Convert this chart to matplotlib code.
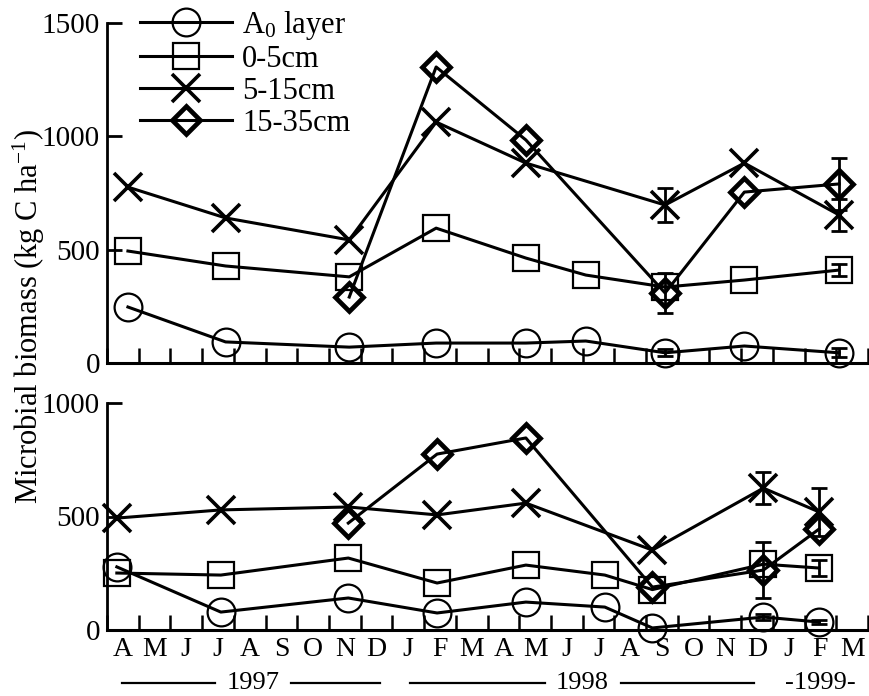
import numpy as np
import matplotlib
matplotlib.use("Agg")
import matplotlib.pyplot as plt
import matplotlib.transforms as mtransforms

plt.rcParams['font.family'] = ['Liberation Serif', 'DejaVu Serif']
plt.rcParams['mathtext.fontset'] = 'custom'
plt.rcParams['mathtext.rm'] = 'Liberation Serif'
plt.rcParams['mathtext.it'] = 'Liberation Serif:italic'

# months counted from 1 April 1997 (0) to 1 April 1999 (24)
month_labels = ['A', 'M', 'J', 'J', 'A', 'S', 'O', 'N', 'D', 'J', 'F', 'M',
                'A', 'M', 'J', 'J', 'A', 'S', 'O', 'N', 'D', 'J', 'F', 'M']
series_names = ['A$_0$ layer', '0-5cm', '5-15cm', '15-35cm']

# sampling dates (fractional month) for each panel
dates_top = [0.66, 3.74, 7.64, 10.38, 13.21, 15.1, 17.6, 20.1, 23.09]
dates_bot = [0.31, 3.59, 7.61, 10.41, 13.21, 15.7, 17.2, 20.7, 22.46]

nan = np.nan
# upper panel (kg C ha-1)
a0_top = [247, 93, 70, 88, 88, 97, 45, 75, 45]
s05_top = [494, 428, 380, 595, 463, 388, 335, 366, 410]
s515_top = [776, 640, 543, 1063, 882, nan, 697, 882, 653]
s1535_top = [nan, nan, 291, 1306, 984, nan, 309, 754, 790]
a0_top_err = [0, 0, 0, 0, 0, 0, 15, 0, 20]
s05_top_err = [0, 0, 0, 0, 0, 0, 0, 0, 25]
s515_top_err = [0, 0, 0, 0, 0, 0, 75, 0, 70]
s1535_top_err = [0, 0, 0, 0, 0, 0, 90, 0, 115]

# lower panel
a0_bot = [278, 79, 141, 75, 123, 101, 9, 57, 35]
s05_bot = [251, 242, 317, 207, 286, 242, 178, 290, 273]
s515_bot = [493, 529, 542, 507, 559, nan, 352, 625, 520]
s1535_bot = [nan, nan, 471, 775, 846, nan, 189, 264, 445]
a0_bot_err = [0, 0, 0, 0, 0, 0, 0, 15, 10]
s05_bot_err = [0, 0, 0, 0, 0, 0, 0, 0, 35]
s515_bot_err = [0, 0, 0, 0, 0, 0, 0, 70, 105]
s1535_bot_err = [0, 0, 0, 0, 0, 0, 0, 125, 0]

styles = [('o', 20, 1.6), ('s', 19, 1.6), ('x', 20, 2.6), ('D', 14, 3.4)]


def draw(ax, dates, values, errs, style, label=None):
    marker, ms, mew = style
    x = np.array(dates)
    y = np.array(values, dtype=float)
    e = np.array(errs, dtype=float)
    ok = ~np.isnan(y)
    line, = ax.plot(x[ok], y[ok], color='black', lw=2.2, marker=marker, ms=ms,
                    mfc='none', mec='black', mew=mew, clip_on=False, label=label)
    has = ok & (e > 0)
    if has.any():
        ax.errorbar(x[has], y[has], yerr=e[has], fmt='none', ecolor='black',
                    elinewidth=2, capsize=6, capthick=2, clip_on=False)
    return line


fig = plt.figure(figsize=(8.7, 6.96), dpi=100)
W, H = 870.0, 696.0
left = 107 / W
width = (868 - 107) / W
ax_top = fig.add_axes([left, 1 - 363 / H, width, (363 - 23) / H])
ax_bot = fig.add_axes([left, 1 - 630 / H, width, (630 - 403) / H])

handles = []
for vals, errs, st, name in zip([a0_top, s05_top, s515_top, s1535_top],
                                [a0_top_err, s05_top_err, s515_top_err, s1535_top_err],
                                styles, series_names):
    handles.append(draw(ax_top, dates_top, vals, errs, st, name))
for vals, errs, st in zip([a0_bot, s05_bot, s515_bot, s1535_bot],
                          [a0_bot_err, s05_bot_err, s515_bot_err, s1535_bot_err],
                          styles):
    draw(ax_bot, dates_bot, vals, errs, st)

for ax, top in [(ax_top, 1500), (ax_bot, 1000)]:
    ax.set_xlim(0, 24)
    ax.set_ylim(0, top)
    ax.set_yticks(np.arange(0, top + 1, 500))
    ax.spines['top'].set_visible(False)
    ax.spines['right'].set_visible(False)
    ax.spines['left'].set_linewidth(2)
    ax.spines['bottom'].set_linewidth(2.2)
    ax.set_xticks(np.arange(0, 25))
    ax.tick_params(axis='x', which='major', direction='in', length=11, width=1.8,
                   labelbottom=False)
    ax.tick_params(axis='y', direction='in', length=11, width=2, labelsize=21, pad=5)

ax_bot.set_xticks(np.arange(24) + 0.5, minor=True)
ax_bot.set_xticklabels(month_labels, minor=True)
ax_bot.tick_params(axis='x', which='minor', length=0, labelsize=20, pad=5)

# year labels below the months
trans = mtransforms.blended_transform_factory(ax_bot.transData, ax_bot.transAxes)
yy = -0.235
for x0, x1, xt, txt in [(0.47, 8.6, 4.6, '1997'), (9.56, 20.4, 15.0, '1998')]:
    ax_bot.plot([x0, xt - 1.2], [yy, yy], color='black', lw=1.6, transform=trans, clip_on=False)
    ax_bot.plot([xt + 1.2, x1], [yy, yy], color='black', lw=1.6, transform=trans, clip_on=False)
    ax_bot.text(xt, yy, txt, transform=trans, ha='center', va='center', fontsize=19)
ax_bot.text(22.5, yy, '-1999-', transform=trans, ha='center', va='center', fontsize=19)

fig.text(0.033, 0.545, 'Microbial biomass (kg C ha$^{-1}$)', rotation=90,
         ha='center', va='center', fontsize=22)

ax_top.legend(handles=handles, loc='upper left', bbox_to_anchor=(140 / W, 1 - 9 / H),
              bbox_transform=fig.transFigure, frameon=False, fontsize=22,
              handlelength=3.0, handletextpad=0.35, labelspacing=0.1,
              borderpad=0, borderaxespad=0)

fig.savefig('out.png', dpi=100)
